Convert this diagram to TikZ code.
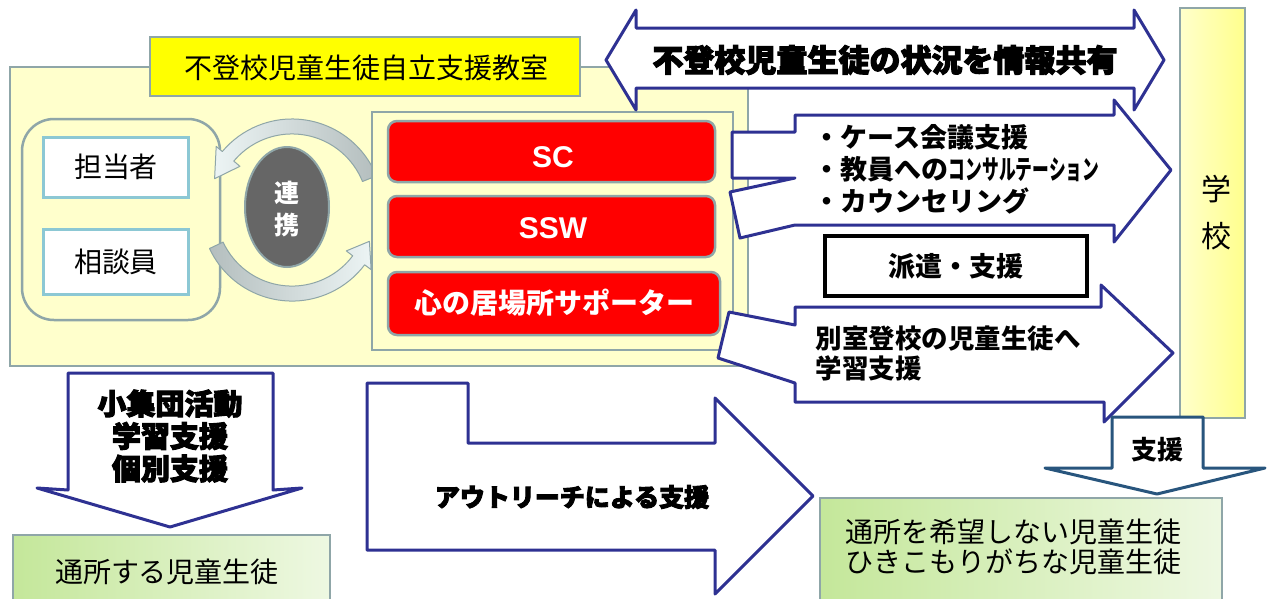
\documentclass[tikz,border=0pt]{standalone}
\usepackage{fontspec}
\usepackage{graphicx}
\usepackage{xcolor}
\usepackage{tikz}
\setmainfont{Noto Sans CJK JP}
\newfontfamily\latfont{Liberation Sans}
\newfontfamily\heavyfont{Noto Sans CJK JP}[BoldFeatures={FakeBold=3.5}]
\newcommand{\fsz}[2]{\fontsize{#1pt}{#2pt}\selectfont}

\definecolor{frameGray}{RGB}{143,166,168}
\definecolor{navyLine}{RGB}{46,49,146}
\definecolor{paleYellow}{RGB}{255,255,204}
\definecolor{tabYellow}{RGB}{255,255,0}
\definecolor{staffBlue}{RGB}{140,200,212}
\definecolor{steelBlue}{RGB}{40,85,125}
\definecolor{darkOval}{RGB}{102,102,102}
\definecolor{linkGray}{RGB}{180,190,190}
\definecolor{linkLight}{RGB}{236,244,244}
\definecolor{greenLeft}{RGB}{196,231,154}
\definecolor{greenRight}{RGB}{238,248,226}
\definecolor{schoolYellow}{RGB}{255,255,140}

\begin{document}
\begin{tikzpicture}[x=1pt,y=1pt,yscale=-1,xscale=1,
  greyframe/.style={draw=frameGray,line width=2.5pt},
  roombox/.style={greyframe,fill=paleYellow},
  staffbox/.style={draw=staffBlue,line width=3pt,fill=white},
  redbox/.style={greyframe,fill=red,rounded corners=9pt},
  navyarrow/.style={draw=navyLine,line width=3pt,fill=white,line join=round},
  greenbox/.style={greyframe,left color=greenLeft,right color=greenRight},
  linkarrow/.style={draw=frameGray,line width=1pt,line join=round},
  plain/.style={inner sep=0.75pt,align=center}]
\fill[white] (0,0) rectangle (1270,598);
\useasboundingbox (0,0) rectangle (1270,598);

% classroom
\draw [roombox] (10,67) rectangle (748,366) ;
\draw [greyframe,fill=tabYellow] (150,37) rectangle (580,96) ;
\draw [greyframe,rounded corners=32pt] (22,119) rectangle (220,320) ;
\draw [staffbox] (43,137) rectangle (188,197) ;
\draw [staffbox] (43,229) rectangle (188,294) ;

% link arrows round the oval
\draw [linkarrow,left color=linkLight,right color=linkGray] (376.4,175.9) arc [start angle=-22,end angle=-140,radius=91] -- (216.2,146.4) -- (214.6,178.7) -- (239.9,166.3) -- (233.8,161.1) arc [start angle=-140,end angle=-22,radius=76] -- cycle ;
\draw [linkarrow,left color=linkGray,right color=linkLight] (223.1,242.1) -- (209.5,248.5) arc [start angle=155,end angle=37,radius=91] -- (371.1,269.6) -- (369.4,241.3) -- (346.3,250.9) -- (352.7,255.8) arc [start angle=37,end angle=155,radius=76] -- cycle ;
\draw [draw=frameGray,line width=2pt,fill=darkOval] (287,207) ellipse [x radius=42,y radius=60] ;

\draw [roombox] (372,112) rectangle (733,350) ;
\draw [redbox] (388,121) rectangle (715,182) ;
\draw [redbox] (388,196) rectangle (715,257) ;
\draw [redbox] (388,272) rectangle (720,335) ;

% school
\draw [greyframe,left color=paleYellow,right color=schoolYellow] (1180,8) rectangle (1245,418) ;

% arrows
\draw [navyarrow] (606,60) -- (636,10) -- (636,28) -- (1134,28) -- (1134,10) -- (1164,60) -- (1134,110) -- (1134,88) -- (636,88) -- (636,110) -- cycle ;
\draw [navyarrow] (732,132) -- (795,132) -- (795,115) -- (1114,115) -- (1114,100) -- (1171,170) -- (1114,242) -- (1114,225) -- (795,225) -- (740,238) -- (730,192) -- (795,178) -- (732,178) -- cycle ;
\draw [navyarrow] (795,307) -- (1101,307) -- (1101,285) -- (1173,353) -- (1104,422) -- (1104,402) -- (795,402) -- (795,383) -- (718,358) -- (729,312) -- (795,325) -- cycle ;
\draw [draw=black,line width=4pt,fill=white] (825,236) rectangle (1087,296) ;
\draw [navyarrow] (367,383) -- (468,383) -- (468,443) -- (715,443) -- (715,398) -- (813,496) -- (715,594) -- (715,550) -- (367,550) -- cycle ;
\draw [navyarrow] (68,373) -- (273,373) -- (273,490) -- (302,488) -- (170,527) -- (37,488) -- (68,490) -- cycle ;
\draw [navyarrow,draw=steelBlue] (1112,417) -- (1203,417) -- (1203,468) -- (1265,468) -- (1157,494) -- (1045,468) -- (1112,468) -- cycle ;

% pupils
\draw [greenbox] (13,535) rectangle (330,610) ;
\draw [greenbox] (820,498) rectangle (1222,610) ;

% texts
\draw (366,68) node (title) [plain,font=\fsz{28}{34}] {不登校児童生徒自立支援教室};
\draw (116,167) node (tanto) [plain,font=\fsz{28}{34}] {担当者};
\draw (116,262) node (sodan) [plain,font=\fsz{28}{34}] {相談員};
\draw (287,209) node (renkei) [plain,text=white,font=\bfseries\fsz{25}{32}] {連\\携};
\draw (553,157) node (sc) [plain,text=white,font=\latfont\bfseries\fsz{30}{32}] {SC};
\draw (553,228) node (ssw) [plain,text=white,font=\latfont\bfseries\fsz{30}{32}] {SSW};
\draw (554,303) node (ibasho) [plain,text=white,font=\bfseries\fsz{28}{32}] {心の居場所サポーター};
\draw (885,60) node (share) [plain,font=\heavyfont\bfseries\fsz{31}{36}] {不登校児童生徒の状況を情報共有};
\draw (813,169) node (consult) [anchor=west,plain,align=left,font=\bfseries\fsz{27}{32}] {・ケース会議支援\\・教員への\scalebox{0.62}[1]{コンサルテーション}\\・カウンセリング};
\draw (956,266) node (dispatch) [plain,font=\bfseries\fsz{27}{32}] {派遣・支援};
\draw (815,353) node (bessitsu) [anchor=west,plain,align=left,font=\bfseries\fsz{26.5}{30}] {別室登校の児童生徒へ\\学習支援};
\draw (1216,213) node (school) [plain,font=\fsz{30}{47}] {学\\校};
\draw (170,436) node (group) [plain,font=\heavyfont\bfseries\fsz{29}{32.5}] {小集団活動\\学習支援\\個別支援};
\draw (572,497) node (outreach) [plain,font=\heavyfont\bfseries\fsz{25}{30}] {アウトリーチによる支援};
\draw (1157,450) node (shien) [plain,font=\bfseries\fsz{26}{30}] {支援};
\draw (167,572) node (tsusho) [plain,font=\fsz{28}{34}] {通所する児童生徒};
\draw (1013,547) node (homebound) [plain,font=\fsz{28}{30}] {通所を希望しない児童生徒\\ひきこもりがちな児童生徒};
\end{tikzpicture}
\end{document}
